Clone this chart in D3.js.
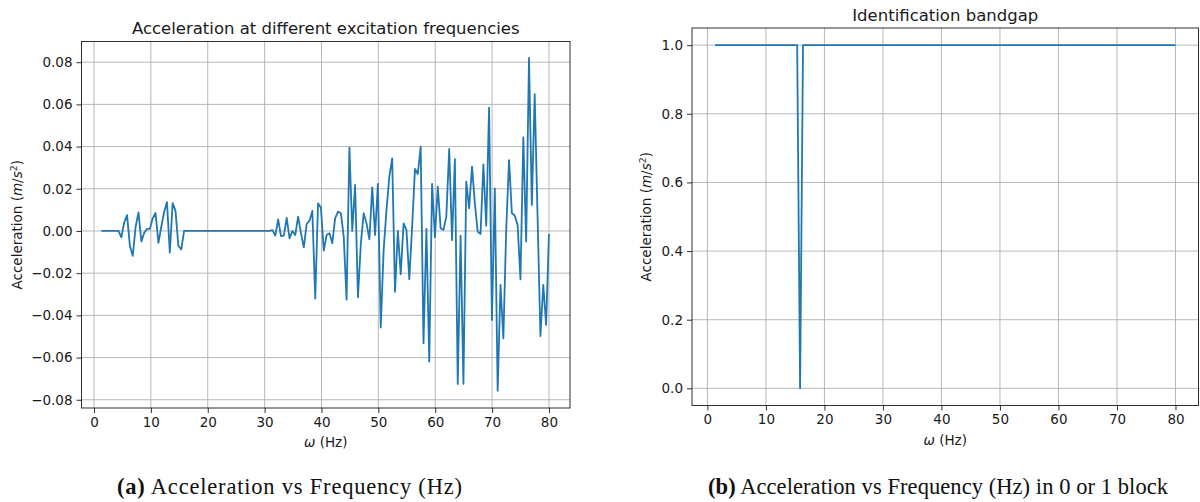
<!DOCTYPE html>
<html>
<head>
<meta charset="utf-8">
<script src="https://cdn.jsdelivr.net/npm/d3@7"></script>
<style>
  html, body { margin: 0; padding: 0; background: #fff; }
  svg { display: block; }
  text { font-family: "DejaVu Sans", sans-serif; fill: #1a1a1a; }
  .cap { font-family: "Liberation Serif", "DejaVu Serif", serif; fill: #111; }
</style>
</head>
<body>
<svg id="chart" width="1200" height="502"></svg>
<script>
// ---------- data ----------
const frequency = [
  1.30, 1.80, 2.30, 2.80, 3.31, 3.81, 4.31, 4.81, 5.31, 5.81,
  6.31, 6.81, 7.32, 7.82, 8.32, 8.82, 9.32, 9.82, 10.32, 10.82,
  11.33, 11.83, 12.33, 12.83, 13.33, 13.83, 14.33, 14.83, 15.34, 15.84,
  16.34, 16.84, 17.34, 17.84, 18.34, 18.84, 19.35, 19.85, 20.35, 20.85,
  21.35, 21.85, 22.35, 22.85, 23.36, 23.86, 24.36, 24.86, 25.36, 25.86,
  26.36, 26.87, 27.37, 27.87, 28.37, 28.87, 29.37, 29.87, 30.37, 30.88,
  31.38, 31.88, 32.38, 32.88, 33.38, 33.88, 34.38, 34.89, 35.39, 35.89,
  36.39, 36.89, 37.39, 37.89, 38.39, 38.90, 39.40, 39.90, 40.40, 40.90,
  41.40, 41.90, 42.40, 42.91, 43.41, 43.91, 44.41, 44.91, 45.41, 45.91,
  46.41, 46.92, 47.42, 47.92, 48.42, 48.92, 49.42, 49.92, 50.42, 50.93,
  51.43, 51.93, 52.43, 52.93, 53.43, 53.93, 54.44, 54.94, 55.44, 55.94,
  56.44, 56.94, 57.44, 57.94, 58.45, 58.95, 59.45, 59.95, 60.45, 60.95,
  61.45, 61.95, 62.46, 62.96, 63.46, 63.96, 64.46, 64.96, 65.46, 65.96,
  66.47, 66.97, 67.47, 67.97, 68.47, 68.97, 69.47, 69.97, 70.48, 70.98,
  71.48, 71.98, 72.48, 72.98, 73.48, 73.98, 74.49, 74.99, 75.49, 75.99,
  76.49, 76.99, 77.49, 77.99, 78.50, 79.00, 79.50, 80.00
];

const acceleration = [
  0, 0, 0, 0, 0, 0, 0,
  -0.003, 0.004, 0.0075, -0.007, -0.0118, 0.002, 0.0088, -0.005, -0.001, 0.001,
  0.001, 0.006, 0.0085, -0.0056, 0.002, 0.009, 0.0137, -0.0103, 0.0132, 0.0095,
  -0.007, -0.0088,
  0, 0, 0, 0, 0, 0, 0, 0, 0, 0, 0, 0, 0, 0, 0, 0, 0, 0, 0, 0, 0, 0, 0, 0, 0, 0, 0, 0, 0, 0, 0,
  0.0004, -0.0022, 0.0055, -0.0024, -0.0022, 0.0062, -0.0035, 0, -0.0019, 0.0068,
  -0.001, -0.0078, 0.0033, 0.0049, 0.0095, -0.032, 0.0131, 0.011, -0.0093, -0.0019,
  -0.0011, -0.0058, 0.006, 0.0092, 0.0084, -0.0027,
  -0.0325, 0.0395, 0, 0.0218, -0.0314, -0.006, 0.0084, 0.0036, -0.004, 0.0207,
  -0.0019, 0.0223, -0.0457, -0.009, 0.01, 0.0258, 0.0344, -0.0288, 0, -0.0205,
  0.0036, 0.0005, -0.0229, 0.002, 0.0294, 0.027, 0.04,
  -0.0532, 0.001, -0.0619, 0.0223, -0.003, 0.021, 0.0013, 0.0005, 0.0068, 0.0389,
  -0.0043, 0.034, -0.0725, -0.0022, -0.0725, 0.0234, 0.0107, 0.0305, 0.0131, -0.0003,
  -0.0014, 0.0316, 0.0025, 0.0584,
  -0.0422, 0.0202, -0.0757, -0.0256, -0.0509, 0.0005, 0.0336, 0.0084, 0.0073, 0.0028,
  -0.0229, 0.0444, -0.005, 0.082, 0.0123, 0.0649, 0.0076, -0.0498, -0.0256, -0.0445,
  -0.0014
];

const bandgap = [
  1, 1, 1, 1, 1, 1, 1, 1, 1, 1,
  1, 1, 1, 1, 1, 1, 1, 1, 1, 1,
  1, 1, 1, 1, 1, 1, 1, 1, 1, 0,
  1, 1, 1, 1, 1, 1, 1, 1, 1, 1,
  1, 1, 1, 1, 1, 1, 1, 1, 1, 1,
  1, 1, 1, 1, 1, 1, 1, 1, 1, 1,
  1, 1, 1, 1, 1, 1, 1, 1, 1, 1,
  1, 1, 1, 1, 1, 1, 1, 1, 1, 1,
  1, 1, 1, 1, 1, 1, 1, 1, 1, 1,
  1, 1, 1, 1, 1, 1, 1, 1, 1, 1,
  1, 1, 1, 1, 1, 1, 1, 1, 1, 1,
  1, 1, 1, 1, 1, 1, 1, 1, 1, 1,
  1, 1, 1, 1, 1, 1, 1, 1, 1, 1,
  1, 1, 1, 1, 1, 1, 1, 1, 1, 1,
  1, 1, 1, 1, 1, 1, 1, 1, 1, 1,
  1, 1, 1, 1, 1, 1, 1, 1
];

const xTicks = [0, 10, 20, 30, 40, 50, 60, 70, 80];
const yTicksA = [-0.08, -0.06, -0.04, -0.02, 0.00, 0.02, 0.04, 0.06, 0.08];
const yTicksB = [0.0, 0.2, 0.4, 0.6, 0.8, 1.0];

const titles = ["Acceleration at different excitation frequencies", "Identification bandgap"];
const captionTags = ["(a)", "(b)"];
const captionTexts = [" Acceleration vs Frequency (Hz)", " Acceleration vs Frequency (Hz) in 0 or 1 block"];

// ---------- drawing ----------
const svg = d3.select("#chart");
const lineColor = "#1f77b4";

function panel(opts) {
  const { box, xDomain, yDomain, values, yTicks, yFmt, title, tag, caption, ylabelX, captionX, captionLen } = opts;
  const x = d3.scaleLinear().domain(xDomain).range([box.left, box.right]);
  const y = d3.scaleLinear().domain(yDomain).range([box.bottom, box.top]);
  const g = svg.append("g");

  // grid
  g.append("g").selectAll("line").data(xTicks).join("line")
    .attr("x1", d => x(d)).attr("x2", d => x(d))
    .attr("y1", box.top).attr("y2", box.bottom)
    .attr("stroke", "#b0b0b0").attr("stroke-width", 0.9);
  g.append("g").selectAll("line").data(yTicks).join("line")
    .attr("y1", d => y(d)).attr("y2", d => y(d))
    .attr("x1", box.left).attr("x2", box.right)
    .attr("stroke", "#b0b0b0").attr("stroke-width", 0.9);

  // line
  const pts = frequency.map((f, i) => [f, values[i]]);
  g.append("path").datum(pts)
    .attr("fill", "none").attr("stroke", lineColor).attr("stroke-width", 1.8)
    .attr("stroke-linejoin", "round")
    .attr("d", d3.line().x(d => x(d[0])).y(d => y(d[1])));

  // frame
  g.append("rect").attr("x", box.left).attr("y", box.top)
    .attr("width", box.right - box.left).attr("height", box.bottom - box.top)
    .attr("fill", "none").attr("stroke", "#1a1a1a").attr("stroke-width", 0.9);

  // axes
  const xa = g.append("g").attr("transform", `translate(0,${box.bottom})`)
    .call(d3.axisBottom(x).tickValues(xTicks).tickFormat(d3.format("d")).tickSizeOuter(0).tickSize(5).tickPadding(4));
  const ya = g.append("g").attr("transform", `translate(${box.left},0)`)
    .call(d3.axisLeft(y).tickValues(yTicks).tickFormat(yFmt).tickSizeOuter(0).tickSize(5).tickPadding(4));
  [xa, ya].forEach(a => {
    a.select(".domain").remove();
    a.selectAll(".tick line").attr("stroke", "#1a1a1a").attr("stroke-width", 0.9);
    a.selectAll(".tick text").attr("fill", "#1a1a1a").style("font-size", "13.5px")
      .style("font-family", '"DejaVu Sans", sans-serif');
  });

  const cx = (box.left + box.right) / 2;
  // title
  g.append("text").attr("x", cx).attr("y", box.top - 7.5).attr("text-anchor", "middle")
    .style("font-size", "16.5px").text(title);

  // x label
  const xl = g.append("text").attr("x", cx).attr("y", box.bottom + 39).attr("text-anchor", "middle")
    .style("font-size", "13.5px");
  xl.append("tspan").style("font-style", "italic").text("ω");
  xl.append("tspan").text(" (Hz)");

  // y label
  const cy = (box.top + box.bottom) / 2;
  const yl = g.append("text").attr("transform", `translate(${ylabelX},${cy}) rotate(-90)`)
    .attr("text-anchor", "middle").style("font-size", "13.5px");
  yl.append("tspan").text("Acceleration (");
  yl.append("tspan").style("font-style", "italic").text("m");
  yl.append("tspan").text("/");
  yl.append("tspan").style("font-style", "italic").text("s");
  yl.append("tspan").attr("dy", -5.5).style("font-size", "9.5px").text("2");
  yl.append("tspan").attr("dy", 5.5).text(")");

  // caption
  const cap = g.append("text").attr("class", "cap").attr("x", captionX).attr("y", 494)
    .attr("text-anchor", "middle").style("font-size", "22.5px")
    .attr("textLength", captionLen).attr("lengthAdjust", "spacing");
  cap.append("tspan").style("font-weight", "bold").text(tag);
  cap.append("tspan").text(caption);
}

panel({
  box: { left: 81.5, right: 570, top: 41.5, bottom: 408 },
  xDomain: [-2.2, 83.7],
  yDomain: [-0.0839, 0.0898],
  values: acceleration,
  yTicks: yTicksA,
  yFmt: d => d3.format(".2f")(d).replace("-", "\u2212"),
  title: titles[0], tag: captionTags[0], caption: captionTexts[0],
  ylabelX: 22, captionX: 289.5, captionLen: 345
});

panel({
  box: { left: 692, right: 1198.5, top: 28, bottom: 405.5 },
  xDomain: [-2.635, 83.935],
  yDomain: [-0.05, 1.05],
  values: bandgap,
  yTicks: yTicksB,
  yFmt: d3.format(".1f"),
  title: titles[1], tag: captionTags[1], caption: captionTexts[1],
  ylabelX: 651, captionX: 938, captionLen: 460
});
</script>
</body>
</html>
